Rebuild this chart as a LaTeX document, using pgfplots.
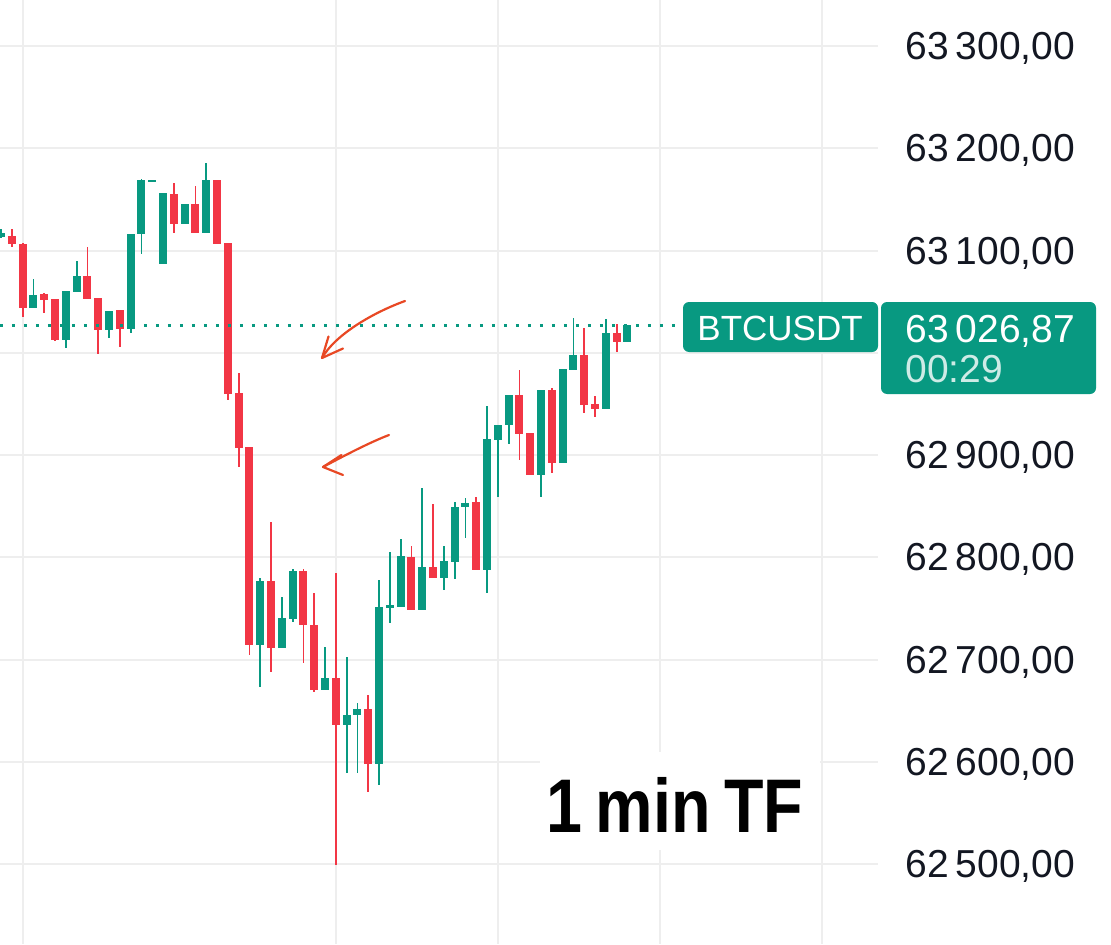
\documentclass[border=0pt]{standalone}
\usepackage{pgfplots}
\pgfplotsset{compat=1.18}
\usepackage{pgfplotstable}
\usepackage{fontspec}
\setmainfont{Liberation Sans}
\definecolor{tvgreen}{RGB}{8,153,129}
\definecolor{tvred}{RGB}{242,54,69}
\definecolor{gridc}{RGB}{238,238,238}
\definecolor{arrowc}{RGB}{232,72,36}
\definecolor{txt}{RGB}{19,23,34}

\pgfplotstableread{
i o h l c
0 63113.2 63120.7 63112.2 63117.1
3 63044.4 63071.8 63044.4 63056.5
6 63013.2 63059.7 63004.4 63059.7
7 63059.7 63089.7 63059.7 63074.4
10 63022.2 63040.1 63014.1 63040.1
12 63023.9 63116.1 63019.0 63116.1
13 63116.1 63169.6 63096.6 63168.9
14 63167.0 63168.3 63167.0 63168.3
15 63087.5 63155.9 63087.5 63155.9
17 63125.9 63145.5 63125.9 63145.5
19 63117.4 63185.9 63117.4 63168.3
24 62714.2 62779.4 62673.4 62776.1
26 62711.9 62761.4 62711.9 62740.3
27 62740.3 62788.2 62737.0 62785.9
30 62670.9 62711.9 62670.9 62681.6
32 62635.9 62702.7 62588.7 62645.7
33 62645.7 62657.2 62588.7 62651.3
35 62597.8 62777.7 62577.3 62751.1
36 62751.1 62805.4 62735.4 62753.3
37 62751.7 62817.8 62751.7 62800.5
39 62748.4 62867.4 62748.4 62789.8
41 62780.4 62811.0 62768.0 62795.6
42 62795.6 62853.7 62778.4 62848.8
43 62849.4 62857.6 62818.5 62852.8
45 62787.5 62947.9 62764.7 62915.4
46 62915.4 62929.3 62858.6 62929.3
47 62929.3 62958.7 62910.8 62958.7
50 62880.4 62962.9 62858.6 62962.9
52 62892.5 62983.8 62892.5 62983.8
53 62983.8 63033.7 62983.8 62997.8
56 62945.7 63032.7 62945.7 63019.0
58 63010.8 63026.9 63010.8 63026.87
}\greencandles

\pgfplotstableread{
i o h l c
1 63114.2 63120.7 63103.7 63106.4
2 63106.4 63107.0 63035.3 63044.4
4 63057.5 63058.7 63039.2 63052.3
5 63052.3 63052.3 63011.5 63012.5
8 63074.4 63103.7 63053.3 63053.3
9 63053.3 63053.3 62998.8 63022.2
11 63041.1 63041.1 63005.9 63023.9
16 63155.3 63165.7 63117.4 63125.9
18 63145.5 63163.1 63117.4 63117.4
20 63168.9 63168.9 63107.0 63107.0
21 63107.0 63107.0 62953.8 62960.3
22 62960.3 62979.9 62888.0 62907.5
23 62907.5 62907.5 62704.4 62714.2
25 62776.1 62834.5 62688.1 62711.9
28 62785.9 62788.2 62696.9 62733.7
29 62733.7 62764.7 62668.5 62670.2
31 62681.6 62784.9 62499.0 62635.9
34 62651.3 62665.3 62570.7 62597.8
38 62799.9 62811.0 62748.4 62748.4
40 62789.8 62852.1 62780.4 62780.4
44 62853.7 62859.2 62787.5 62787.5
48 62958.7 62983.1 62895.1 62921.2
49 62921.2 62921.2 62880.4 62880.4
51 62962.9 62965.2 62882.1 62892.5
54 62997.8 63023.9 62940.8 62948.9
55 62949.9 62957.7 62936.9 62945.7
57 63019.0 63028.1 63001.0 63010.8
}\redcandles

\newcommand{\wicks}[2]{%
\addplot[draw=none, mark=none, forget plot,
  error bars/.cd, y dir=both, y explicit, error mark=none,
  error bar style={draw=#2, solid, line width=0.9pt, line cap=butt}]
  table[x=i, y expr={0.5*(\thisrow{h}+\thisrow{l})},
        y error expr={0.5*(\thisrow{h}-\thisrow{l})}] {#1};}
\newcommand{\bodies}[2]{%
\addplot[draw=none, mark=none, forget plot,
  error bars/.cd, y dir=both, y explicit, error mark=none,
  error bar style={draw=#2, solid, line width=4pt, line cap=butt}]
  table[x=i, y expr={0.5*(\thisrow{o}+\thisrow{c})},
        y error expr={0.5*abs(\thisrow{c}-\thisrow{o})+0.3}] {#1};}

\begin{document}
\begin{tikzpicture}
\begin{axis}[
  at={(0,0)}, anchor=south west,
  scale only axis, width=439pt, height=472pt,
  xmin=-0.0926, xmax=81.2, ymin=62421.8, ymax=63345.0,
  axis line style={draw=none},
  xtick={2,31,46,61,76}, xticklabels={},
  ytick={62500,62600,...,63300},
  scaled y ticks=false,
  grid=major, major grid style={gridc, line width=1pt},
  major tick length=0pt,
  yticklabel pos=right,
  yticklabel style={anchor=base west, inner sep=0pt, xshift=13.5pt, yshift=-6.8pt,
     font=\fontsize{19.5}{19.5}\selectfont, text=txt,
     /pgf/number format/.cd, fixed, fixed zerofill, precision=2, use comma,
     1000 sep={\hspace{0.18em}}, assume math mode=true},
]
\wicks{\greencandles}{tvgreen}
\wicks{\redcandles}{tvred}
\bodies{\greencandles}{tvgreen}
\bodies{\redcandles}{tvred}
\addplot[tvgreen, line width=1.5pt, dash pattern=on 1.5pt off 4.5pt, forget plot]
  coordinates {(-0.1,63026.87) (63.2,63026.87)};
\end{axis}
\begin{scope}[x=0.5pt, y=-0.5pt, yshift=472pt]
  \fill[white] (540,752) rectangle (820,850);
  \node[anchor=base west, inner sep=0pt, font=\bfseries\fontsize{38}{38}\selectfont, text=black]
    at (546,832) {\scalebox{0.85}[1]{1\hspace{8pt}min\hspace{8pt}TF}};
  \fill[tvgreen, rounded corners=3pt] (683,302) rectangle (878,352);
  \node[anchor=base west, inner sep=0pt, text=white, font=\fontsize{17.5}{17.5}\selectfont]
    at (697,340) {BTCUSDT};
  \fill[tvgreen, rounded corners=3pt] (881,302) rectangle (1096,394);
  \node[anchor=base west, inner sep=0pt, text=white, font=\fontsize{19.5}{19.5}\selectfont]
    at (905,342) {63\hspace{0.18em}026,87};
  \node[anchor=base west, inner sep=0pt, text=white!80!tvgreen, font=\fontsize{19.5}{19.5}\selectfont]
    at (905,382) {00:29};
  \begin{scope}[arrowc, line width=1.1pt, line cap=round, line join=round]
    \draw (405,301) .. controls (372,313) and (335,335) .. (322,358);
    \draw (328.5,336.5) -- (322,358) -- (343,348.5);
    \draw (389,435) .. controls (368,443) and (340,458) .. (323,467);
    \draw (341.5,455) -- (323,467) -- (343,475);
  \end{scope}
\end{scope}
\pgfresetboundingbox
\useasboundingbox (0,0) rectangle (555.5pt,472pt);
\end{tikzpicture}
\end{document}
